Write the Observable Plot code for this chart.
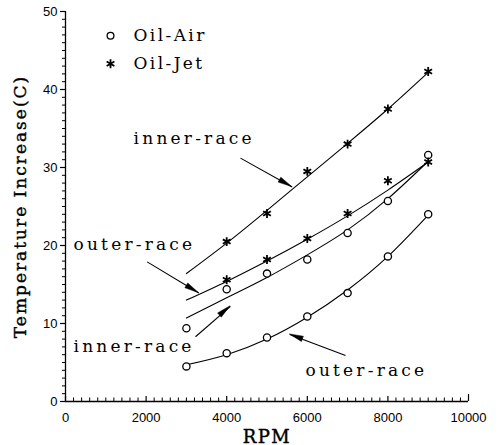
<!DOCTYPE html>
<html><head><meta charset="utf-8">
<script src="https://cdn.jsdelivr.net/npm/d3@7"></script>
<script src="https://cdn.jsdelivr.net/npm/@observablehq/plot@0.6"></script>
<style>body{margin:0;background:#fff}</style>
</head><body><div id="chart"></div>
<script>
// ---- data ----
const airRpm = [3000, 4000, 5000, 6000, 7000, 8000, 9000];
const airInner = [9.4, 14.4, 16.4, 18.2, 21.6, 25.7, 31.6];
const airOuter = [4.5, 6.2, 8.2, 10.9, 13.9, 18.6, 24.0];
const jetRpm = [4000, 5000, 6000, 7000, 8000, 9000];
const jetInner = [20.5, 24.1, 29.5, 33.0, 37.5, 42.3];
const jetOuter = [15.6, 18.2, 20.9, 24.1, 28.3, 30.7];
// fitted curves as drawn
const fitRpm = [3000, 4000, 5000, 6000, 7000, 8000, 9000];
const fitJetInner = [16.4, 20.3, 24.5, 28.8, 33.1, 37.5, 42.2];
const fitJetOuter = [13.0, 15.4, 18.0, 20.8, 23.8, 27.1, 30.7];
const fitAirInner = [10.7, 13.3, 15.9, 18.8, 22.0, 26.0, 30.8];
const fitAirOuter = [4.7, 6.0, 8.0, 10.8, 14.3, 18.6, 23.9];
const xTicks = [0, 2000, 4000, 6000, 8000, 10000];
const yTicks = [0, 10, 20, 30, 40, 50];
const xTitle = "RPM", yTitle = "Temperature Increase(C)";
// annotations (data coordinates)
const labels = ["inner-race", "outer-race", "inner-race", "outer-race"];
const labelX = [1690, 199, 199, 5955];
const labelY = [33.7, 20.1, 7.0, 4.0];
const arrowX1 = [4342, 2027, 3226, 6948];
const arrowY1 = [31.2, 17.9, 8.3, 5.9];
const arrowX2 = [5625, 3308, 4094, 5566];
const arrowY2 = [27.5, 13.9, 12.2, 8.6];
const legendNames = ["Oil-Air", "Oil-Jet"];
const legendX = 1117, legendTextX = 1687;
const legendY = [46.9, 43.3];

const W = 500, H = 445, mL = 65, mR = 32, mT = 11, mB = 44;
const xDomain = [0, 10000], yDomain = [0, 50];

const pts = (xa, ya) => xa.map((x, i) => ({x, y: ya[i]}));
const curves = [fitJetInner, fitJetOuter, fitAirInner, fitAirOuter].map(a => pts(fitRpm, a));
const arrows = labels.map((l, i) => ({x1: arrowX1[i], y1: arrowY1[i], x2: arrowX2[i], y2: arrowY2[i]}));
const annot = labels.map((t, i) => ({t, x: labelX[i], y: labelY[i]}));
const minorX = d3.range(0, 10001, 200).filter(v => v % 2000 !== 0);
const serif = "DejaVu Serif";

const chart = Plot.plot({
  width: W, height: H,
  marginLeft: mL, marginRight: mR, marginTop: mT, marginBottom: mB,
  x: {domain: xDomain},
  y: {domain: yDomain},
  style: {fontFamily: "Liberation Sans", fontSize: "13px", color: "#000", background: "#fff"},
  marks: [
    Plot.axisY({ticks: d3.range(0, 51, 1), tickSize: 3, tickFormat: () => "", label: null, strokeWidth: 1}),
    Plot.axisY({ticks: yTicks, tickSize: 5, tickPadding: 3, tickFormat: d => String(d), label: null, fontSize: 13, strokeWidth: 1.2}),
    Plot.axisY({ticks: [], tickSize: 0, label: yTitle, labelAnchor: "center", labelOffset: 52, labelArrow: false, fontFamily: serif, fontSize: 17}),
    Plot.axisX({ticks: xTicks, tickSize: 0, tickPadding: 11, tickFormat: d => String(d), label: null, fontSize: 13}),
    Plot.axisX({ticks: [], tickSize: 0, label: xTitle, labelAnchor: "center", labelOffset: 41, labelArrow: false, fontFamily: serif, fontSize: 18}),
    Plot.ruleX(minorX, {x: d => d, y1: 0, y2: 0.45, strokeWidth: 1}),
    Plot.ruleX(xTicks, {x: d => d, y1: 0, y2: d => d === 10000 ? 0.9 : 0.65, strokeWidth: 1.2}),
    Plot.ruleX([0], {strokeWidth: 1.3}),
    Plot.ruleY([0], {x1: 0, x2: 10000, strokeWidth: 1.3}),
    ...curves.map(c => Plot.line(c, {x: "x", y: "y", curve: "natural", strokeWidth: 1.1})),
    Plot.dot(pts(airRpm, airInner), {x: "x", y: "y", r: 3.6, stroke: "#000", strokeWidth: 1.3, fill: "#fff"}),
    Plot.dot(pts(airRpm, airOuter), {x: "x", y: "y", r: 3.6, stroke: "#000", strokeWidth: 1.3, fill: "#fff"}),
    Plot.dot(pts(jetRpm, jetInner), {x: "x", y: "y", symbol: "asterisk", r: 4.2, stroke: "#000", strokeWidth: 1.8}),
    Plot.dot(pts(jetRpm, jetOuter), {x: "x", y: "y", symbol: "asterisk", r: 4.2, stroke: "#000", strokeWidth: 1.8}),
    Plot.link(arrows, {x1: "x1", y1: "y1", x2: "x2", y2: "y2", stroke: "#000", strokeWidth: 1.1}),
    Plot.text(annot, {x: "x", y: "y", text: "t", textAnchor: "start", fontFamily: serif, fontSize: 17, className: "spaced"}),
    Plot.dot([legendY[0]], {x: () => legendX, y: d => d, r: 3.4, stroke: "#000", strokeWidth: 1.3}),
    Plot.dot([legendY[1]], {x: () => legendX, y: d => d, symbol: "asterisk", r: 4.2, stroke: "#000", strokeWidth: 1.8}),
    Plot.text(legendNames, {x: () => legendTextX, y: (d, i) => legendY[i], text: d => d, textAnchor: "start", fontFamily: serif, fontSize: 17, className: "spaced2"})
  ]
});
const svg = d3.select(chart.tagName === "svg" ? chart : chart.querySelector("svg"));
svg.selectAll(".spaced text").style("letter-spacing", "3.2px");
svg.selectAll(".spaced2 text").style("letter-spacing", "2.4px");
svg.selectAll('g[aria-label="y-axis label"] text')
  .attr("fill", "#000").attr("stroke", "#000").attr("stroke-width", 0.4).style("letter-spacing", "2px");
svg.selectAll('g[aria-label="x-axis label"] text')
  .attr("fill", "#000").attr("stroke", "#000").attr("stroke-width", 0.4).style("letter-spacing", "1.5px");
// filled arrowheads, positioned through the plot's own scales
const sx = chart.scale("x"), sy = chart.scale("y");
const heads = svg.append("g");
arrows.forEach(a => {
  const x1 = sx.apply(a.x1), y1 = sy.apply(a.y1), x2 = sx.apply(a.x2), y2 = sy.apply(a.y2);
  const L = Math.hypot(x2 - x1, y2 - y1), ux = (x2 - x1) / L, uy = (y2 - y1) / L;
  const len = 14, w = 2.8;
  const bx = x2 - ux * len, by = y2 - uy * len;
  heads.append("path")
    .attr("d", `M${x2},${y2}L${bx - uy * w},${by + ux * w}L${bx + uy * w},${by - ux * w}Z`)
    .attr("fill", "#000").attr("stroke", "#000").attr("stroke-width", 0.5);
});
document.getElementById("chart").appendChild(chart);
</script>
</body></html>
